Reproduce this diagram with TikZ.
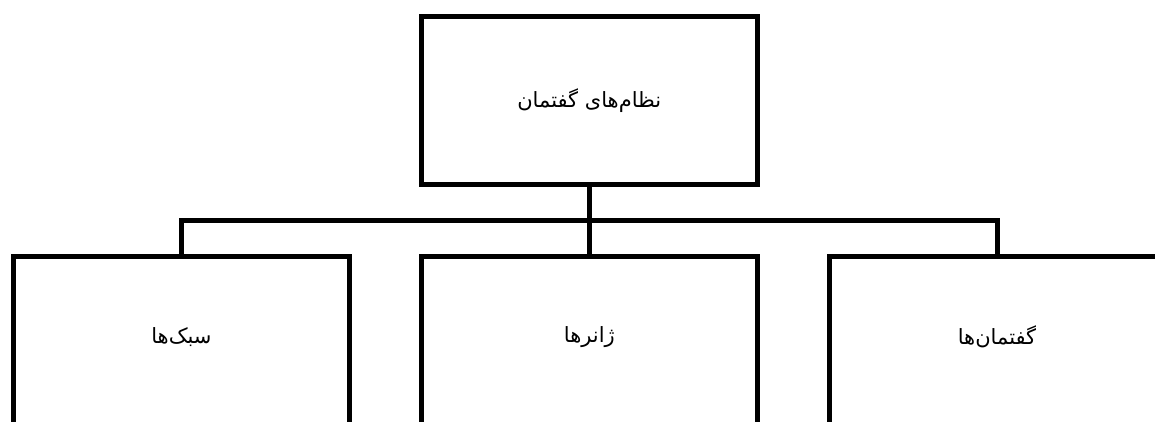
\documentclass[tikz,border=0pt]{standalone}
\usepackage{fontspec}
\newfontfamily\arabicfont[Script=Arabic]{DejaVu Sans}
\TeXXeTstate=1
\begin{document}
\begin{tikzpicture}[x=1pt,y=1pt,
  boxnode/.style={draw=black, line width=5pt, rectangle, minimum width=335.5pt, minimum height=168pt, inner sep=0pt},
  lowbox/.style={boxnode, minimum height=190pt},
  label text/.style={font=\arabicfont\fontsize{21}{25}\selectfont, inner sep=0pt},
  link/.style={draw=black, line width=5pt}]
\useasboundingbox (0,0) rectangle (1155,-421);
\clip (0,0) rectangle (1155,-421);
\node[boxnode] (top) at (589.3,-100.9) {};
\node[label text] (toptext) at (top.center) {\beginR نظام‌های گفتمان\endR};
\node[lowbox] (left) at (181.4,-351) {};
\node[lowbox] (mid) at (589.3,-351) {};
\node[lowbox] (right) at (997,-351) {};
\node[label text] (lefttext) at (181.4,-337) {\beginR سبک‌ها\endR};
\node[label text] (midtext) at (589.3,-337) {\beginR ژانرها\endR};
\node[label text] (righttext) at (997,-337) {\beginR گفتمان‌ها\endR};
\coordinate (bar) at (0,-220.7);
\draw[link] (top.south) -- (mid.north);
\draw[link] (left.north) -- (left.north |- bar) -- (right.north |- bar) -- (right.north);
\end{tikzpicture}
\end{document}
